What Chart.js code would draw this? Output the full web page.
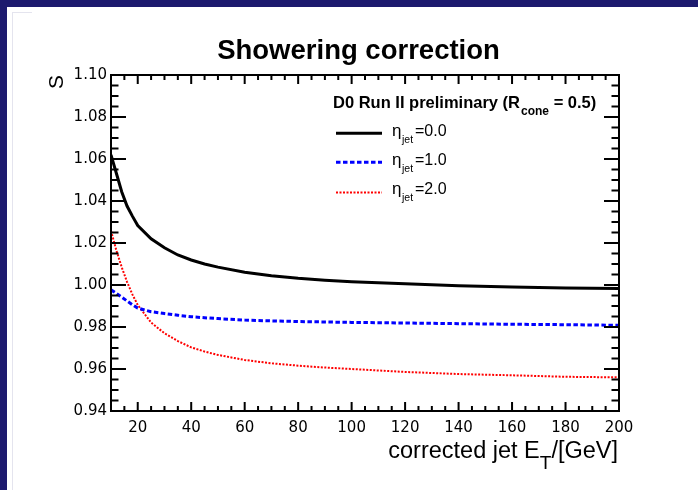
<!DOCTYPE html>
<html>
<head>
<meta charset="utf-8">
<title>Showering correction</title>
<script src="https://cdn.jsdelivr.net/npm/chart.js@4.4.1/dist/chart.umd.min.js"></script>
<style>
    body { margin: 0; background: #fff; }
    #wrap { position: relative; width: 698px; height: 490px; overflow: hidden; }
    .bar { position: absolute; background: #1c1a6e; }
    .shade { position: absolute; background: #e4e4ee; }
    canvas { position: absolute; left: 0; top: 0; }
</style>
</head>
<body>
<div id="wrap">
    <div class="bar" style="left:0;top:0;width:698px;height:7px"></div>
    <div class="bar" style="left:0;top:0;width:7px;height:490px"></div>
    <div class="shade" style="left:12px;top:12px;width:1px;height:478px"></div>
    <div class="shade" style="left:12px;top:12px;width:20px;height:1px"></div>
    <canvas id="shower-canvas" width="698" height="490"></canvas>
</div>
<script>
// Valores: E_T corregida (GeV) y correccion S para cada eta
const etPoints = [10, 12, 14, 16, 18, 20, 25, 30, 35, 40, 45, 50, 60, 70, 80, 90, 100, 120, 140, 160, 180, 200];
const sEta0 = [1.0620, 1.0532, 1.0444, 1.0376, 1.0328, 1.0283, 1.0220, 1.0177, 1.0143, 1.0119, 1.0100, 1.0085, 1.0061, 1.0044, 1.0032, 1.0023, 1.0016, 1.0006, 0.9997, 0.9990, 0.9986, 0.9983];
const sEta1 = [0.9977, 0.9960, 0.9942, 0.9924, 0.9906, 0.9890, 0.9873, 0.9864, 0.9856, 0.9849, 0.9844, 0.9840, 0.9833, 0.9829, 0.9826, 0.9824, 0.9822, 0.9819, 0.9816, 0.9813, 0.9811, 0.9808];
const sEta2 = [1.0258, 1.0165, 1.0085, 1.0015, 0.9955, 0.9905, 0.9821, 0.9770, 0.9733, 0.9703, 0.9683, 0.9667, 0.9643, 0.9627, 0.9616, 0.9607, 0.9600, 0.9586, 0.9576, 0.9570, 0.9563, 0.9560];
const etaLabels = ['0.0', '1.0', '2.0'];

// Marcas de los ejes
const xMajorTicks = [20, 40, 60, 80, 100, 120, 140, 160, 180, 200];
const yMajorTicks = [0.94, 0.96, 0.98, 1.00, 1.02, 1.04, 1.06, 1.08, 1.10];
const xMinorStep = 5;
const yMinorStep = 0.005;

const xMin = 10, xMax = 200, yMin = 0.94, yMax = 1.10;

function isYMajor(v) {
    return yMajorTicks.some(m => Math.abs(m - v) < 1e-7);
}

function toPoints(values) {
    return etPoints.map((x, i) => ({ x: x, y: values[i] }));
}

// Marcas hacia adentro en los cuatro lados, estilo ROOT
const rootFrame = {
    id: 'rootFrame',
    afterDatasetsDraw(chart) {
        const ctx = chart.ctx;
        const area = chart.chartArea;
        const xs = chart.scales.x;
        const ys = chart.scales.y;
        ctx.save();
        ctx.strokeStyle = '#000';
        ctx.lineWidth = 2;
        ctx.beginPath();
        xs.ticks.forEach(t => {
            const px = xs.getPixelForValue(t.value);
            const len = xMajorTicks.includes(t.value) ? 9 : 5;
            ctx.moveTo(px, area.bottom);
            ctx.lineTo(px, area.bottom - len);
            ctx.moveTo(px, area.top);
            ctx.lineTo(px, area.top + len);
        });
        ys.ticks.forEach(t => {
            const py = ys.getPixelForValue(t.value);
            const len = isYMajor(t.value) ? 15 : 7.5;
            ctx.moveTo(area.left, py);
            ctx.lineTo(area.left + len, py);
            ctx.moveTo(area.right, py);
            ctx.lineTo(area.right - len, py);
        });
        ctx.stroke();
        ctx.strokeRect(area.left, area.top, area.right - area.left, area.bottom - area.top);
        ctx.restore();
    }
};

// Leyenda con subindices (Chart.js no los soporta)
const rootLegend = {
    id: 'rootLegend',
    afterDraw(chart) {
        const ctx = chart.ctx;
        ctx.save();
        ctx.fillStyle = '#000';
        ctx.textBaseline = 'alphabetic';
        ctx.textAlign = 'left';

        // Cabecera
        let x = 333;
        ctx.font = 'bold 16.5px "Liberation Sans"';
        ctx.fillText('D0 Run II preliminary (R', x, 107.5);
        x += ctx.measureText('D0 Run II preliminary (R').width + 1;
        ctx.font = 'bold 12px "Liberation Sans"';
        ctx.fillText('cone', x, 115);
        x += ctx.measureText('cone').width;
        ctx.font = 'bold 16.5px "Liberation Sans"';
        ctx.fillText(' = 0.5)', x, 107.5);

        const lineY = [133.3, 162.3, 192.5];
        const textY = [135.7, 164.7, 193.8];
        chart.data.datasets.forEach((ds, i) => {
            ctx.save();
            ctx.strokeStyle = ds.borderColor;
            ctx.lineWidth = ds.borderWidth;
            ctx.setLineDash(ds.borderDash || []);
            ctx.beginPath();
            ctx.moveTo(336, lineY[i]);
            ctx.lineTo(382, lineY[i]);
            ctx.stroke();
            ctx.restore();

            ctx.font = '17px "Liberation Sans"';
            ctx.fillText('η', 392, textY[i]);
            ctx.font = '10.5px "Liberation Sans"';
            ctx.fillText('jet', 402, textY[i] + 7.5);
            ctx.font = '16px "Liberation Sans"';
            ctx.fillText('=' + etaLabels[i], 415, textY[i]);
        });

        // Titulo del eje X, alineado a la derecha del marco
        const xs = chart.scales.x;
        const right = xs.right - 1;
        const base = 457.5;
        ctx.font = '23.5px "Liberation Sans"';
        const w1 = ctx.measureText('corrected jet E').width;
        const w3 = ctx.measureText('/[GeV]').width;
        ctx.font = '19px "Liberation Sans"';
        const w2 = ctx.measureText('T').width;
        let tx = right - w1 - w2 - w3;
        ctx.font = '23.5px "Liberation Sans"';
        ctx.fillText('corrected jet E', tx, base);
        tx += w1;
        ctx.font = '19px "Liberation Sans"';
        ctx.fillText('T', tx, base + 11.8);
        tx += w2;
        ctx.font = '23.5px "Liberation Sans"';
        ctx.fillText('/[GeV]', tx, base);
        ctx.restore();
    }
};

const ctx = document.getElementById('shower-canvas').getContext('2d');
const chart = new Chart(ctx, {
    type: 'line',
    data: {
        datasets: [{
            label: 'eta_jet=0.0',
            data: toPoints(sEta0),
            borderColor: '#000000',
            borderWidth: 3
        }, {
            label: 'eta_jet=1.0',
            data: toPoints(sEta1),
            borderColor: '#0000ff',
            borderWidth: 3,
            borderDash: [4.5, 2.5]
        }, {
            label: 'eta_jet=2.0',
            data: toPoints(sEta2),
            borderColor: '#ff0000',
            borderWidth: 2,
            borderDash: [2, 1.5]
        }]
    },
    options: {
        responsive: false,
        animation: false,
        devicePixelRatio: 1,
        layout: { padding: { left: 19, right: 0, top: 0, bottom: 0 } },
        elements: {
            point: { radius: 0 },
            line: { tension: 0, fill: false }
        },
        plugins: {
            legend: { display: false },
            tooltip: { enabled: false },
            title: {
                display: true,
                text: 'Showering correction',
                color: '#000',
                font: { family: 'Liberation Sans', size: 27.5, weight: 'bold' },
                padding: { top: 35, bottom: 7 }
            }
        },
        scales: {
            x: {
                type: 'linear',
                min: xMin,
                max: xMax,
                afterBuildTicks: function(scale) {
                    const ticks = [];
                    for (let v = xMin; v <= xMax; v += xMinorStep) ticks.push({ value: v });
                    scale.ticks = ticks;
                },
                afterFit: function(scale) { scale.height = 79; },
                grid: { display: false, drawTicks: false },
                border: { display: false },
                ticks: {
                    autoSkip: false,
                    maxRotation: 0,
                    padding: 8,
                    color: '#000',
                    font: { family: 'DejaVu Sans', size: 15 },
                    callback: value => xMajorTicks.includes(value) ? String(value) : ''
                }
            },
            y: {
                type: 'linear',
                min: yMin,
                max: yMax,
                afterBuildTicks: function(scale) {
                    const ticks = [];
                    const n = Math.round((yMax - yMin) / yMinorStep);
                    for (let i = 0; i <= n; i++) ticks.push({ value: Math.round((yMin + i * yMinorStep) * 1000) / 1000 });
                    scale.ticks = ticks;
                },
                afterFit: function(scale) { scale.width = 92; },
                grid: { display: false, drawTicks: false },
                border: { display: false },
                ticks: {
                    autoSkip: false,
                    padding: 4,
                    color: '#000',
                    font: { family: 'DejaVu Sans', size: 15 },
                    callback: value => isYMajor(value) ? value.toFixed(2) : ''
                },
                title: {
                    display: true,
                    text: 'S',
                    align: 'end',
                    color: '#000',
                    font: { family: 'Liberation Sans', size: 21 },
                    padding: { top: 25.4, bottom: 0 }
                }
            },
            // Eje vacio a la derecha, solo para reservar el margen
            y2: {
                type: 'linear',
                position: 'right',
                afterFit: function(scale) { scale.width = 79; },
                grid: { display: false, drawTicks: false },
                border: { display: false },
                ticks: { display: false }
            }
        }
    },
    plugins: [rootFrame, rootLegend]
});
</script>
</body>
</html>
